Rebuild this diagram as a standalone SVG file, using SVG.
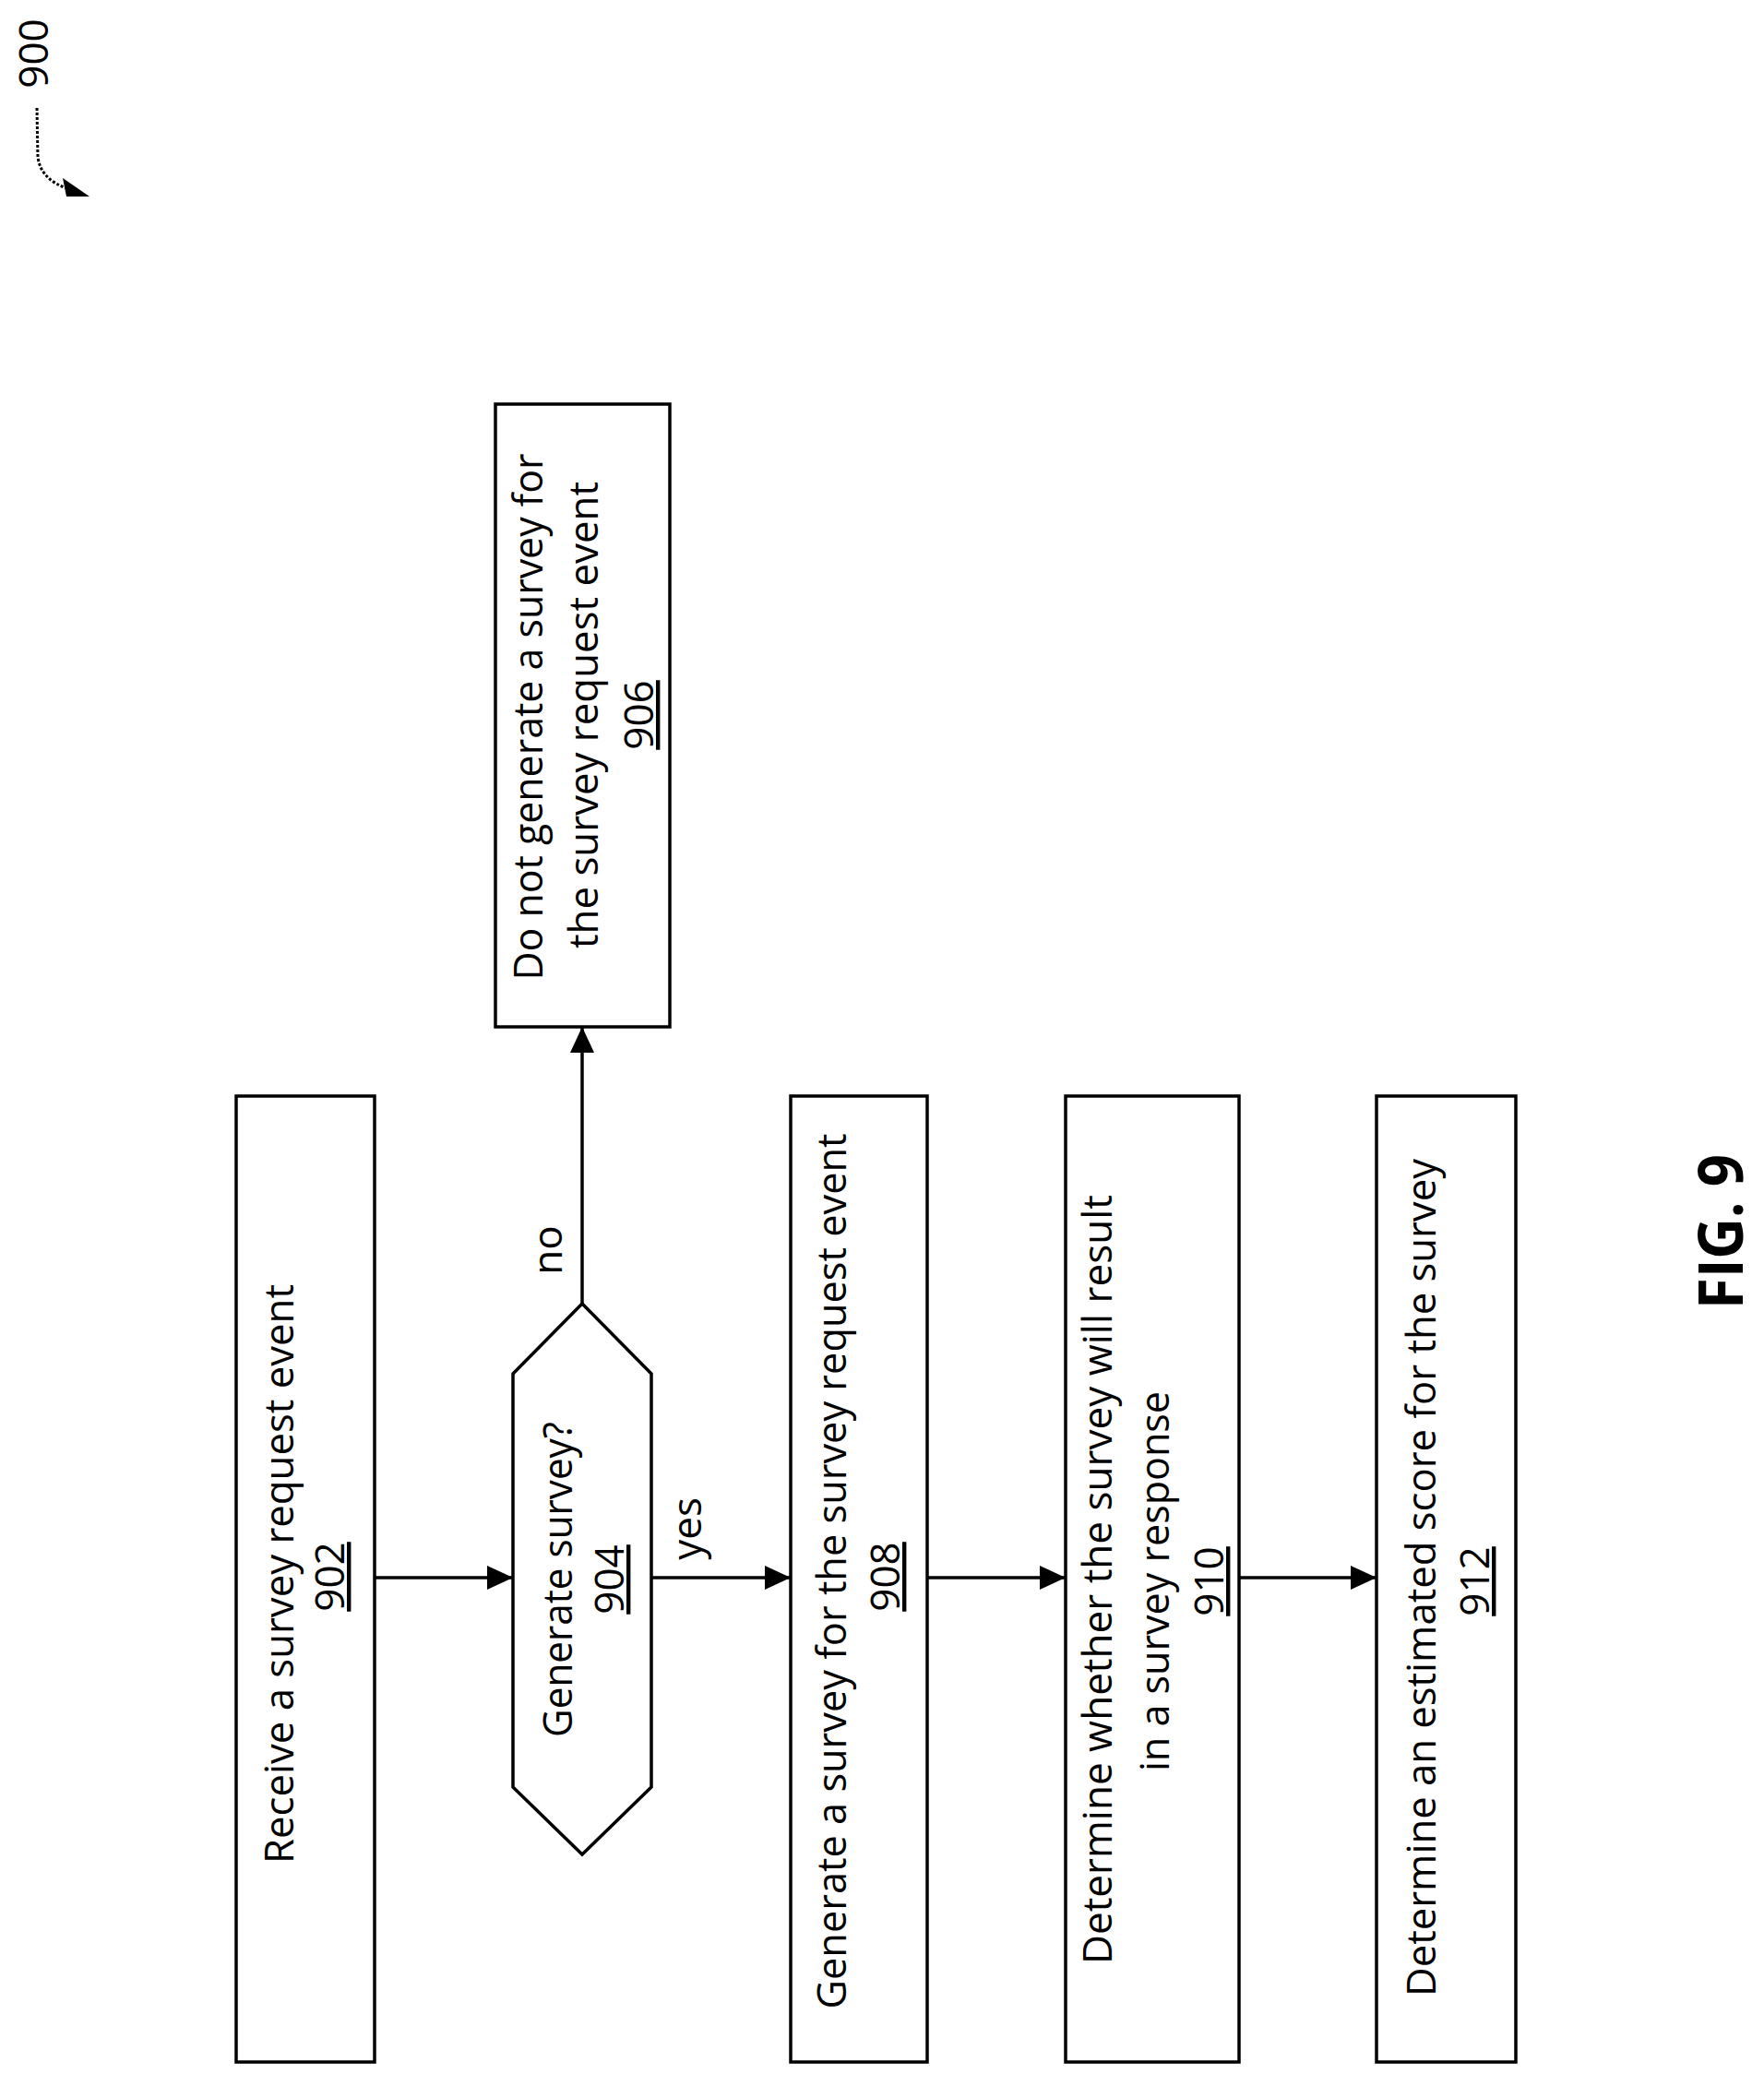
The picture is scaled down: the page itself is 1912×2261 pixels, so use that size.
<svg xmlns="http://www.w3.org/2000/svg" width="1912" height="2261" viewBox="0 0 1912 2261">
<style>
.b{fill:#fff;stroke:#000;stroke-width:3.5}
.t{font-family:"Open Sans","Liberation Sans",sans-serif;font-size:44px;fill:#000;text-anchor:middle}
.c{fill:none;stroke:#000;stroke-width:3.5}
</style>
<defs>
<marker id="ah" markerWidth="28" markerHeight="26" refX="28" refY="13" orient="auto" markerUnits="userSpaceOnUse">
<path d="M0,0 L28,13 L0,26 Z" fill="#000"/>
</marker>
</defs>
<rect width="1912" height="2261" fill="#fff"/>
<g id="ref900">
<text class="t" transform="translate(52,58) rotate(-90)" style="font-size:44px">900</text>
<path d="M40,117 L41,170 Q44,195 75,205" fill="none" stroke="#000" stroke-width="3" stroke-dasharray="3,2"/>
<path d="M97,213 L68,193 L72,213 Z" fill="#000"/>
</g>
<g id="n902">
<rect class="b" x="256" y="1188" width="150" height="1047"/>
<text class="t" transform="translate(318,1706) rotate(-90)" textLength="628" lengthAdjust="spacingAndGlyphs">Receive a survey request event</text>
<text class="t" transform="translate(373,1709) rotate(-90)" text-decoration="underline">902</text>
</g>
<g id="n904">
<path class="b" d="M631,1413 L706,1489 L706,1937 L631,2010 L556,1937 L556,1489 Z"/>
<text class="t" transform="translate(620,1712) rotate(-90)" textLength="342" lengthAdjust="spacingAndGlyphs">Generate survey?</text>
<text class="t" transform="translate(676,1712) rotate(-90)" text-decoration="underline">904</text>
</g>
<g id="n906">
<rect class="b" x="537" y="438" width="189" height="675"/>
<text class="t" transform="translate(588,777) rotate(-90)" textLength="571" lengthAdjust="spacingAndGlyphs">Do not generate a survey for</text>
<text class="t" transform="translate(648,775) rotate(-90)" textLength="506" lengthAdjust="spacingAndGlyphs">the survey request event</text>
<text class="t" transform="translate(708,775) rotate(-90)" text-decoration="underline">906</text>
</g>
<g id="n908">
<rect class="b" x="857" y="1188" width="148" height="1047"/>
<text class="t" transform="translate(917,1703) rotate(-90)" textLength="949" lengthAdjust="spacingAndGlyphs">Generate a survey for the survey request event</text>
<text class="t" transform="translate(975,1709) rotate(-90)" text-decoration="underline">908</text>
</g>
<g id="n910">
<rect class="b" x="1155" y="1188" width="188" height="1047"/>
<text class="t" transform="translate(1205,1712) rotate(-90)" textLength="834" lengthAdjust="spacingAndGlyphs">Determine whether the survey will result</text>
<text class="t" transform="translate(1267,1714) rotate(-90)" textLength="412" lengthAdjust="spacingAndGlyphs">in a survey response</text>
<text class="t" transform="translate(1326,1714) rotate(-90)" text-decoration="underline">910</text>
</g>
<g id="n912">
<rect class="b" x="1492" y="1188" width="151" height="1047"/>
<text class="t" transform="translate(1556,1710) rotate(-90)" textLength="908" lengthAdjust="spacingAndGlyphs">Determine an estimated score for the survey</text>
<text class="t" transform="translate(1614,1714) rotate(-90)" text-decoration="underline">912</text>
</g>
<g id="connectors">
<line class="c" x1="406" y1="1710" x2="556" y2="1710" marker-end="url(#ah)"/>
<line class="c" x1="706" y1="1710" x2="857" y2="1710" marker-end="url(#ah)"/>
<line class="c" x1="1005" y1="1710" x2="1155" y2="1710" marker-end="url(#ah)"/>
<line class="c" x1="1343" y1="1710" x2="1492" y2="1710" marker-end="url(#ah)"/>
<line class="c" x1="631" y1="1413" x2="631" y2="1113" marker-end="url(#ah)"/>
<text class="t" transform="translate(609,1355) rotate(-90)">no</text>
<text class="t" transform="translate(760,1657) rotate(-90)">yes</text>
</g>
<text class="t" transform="translate(1889,1335) rotate(-90)" style="font-size:66px;font-weight:bold" textLength="168" lengthAdjust="spacingAndGlyphs">FIG. 9</text>
</svg>
